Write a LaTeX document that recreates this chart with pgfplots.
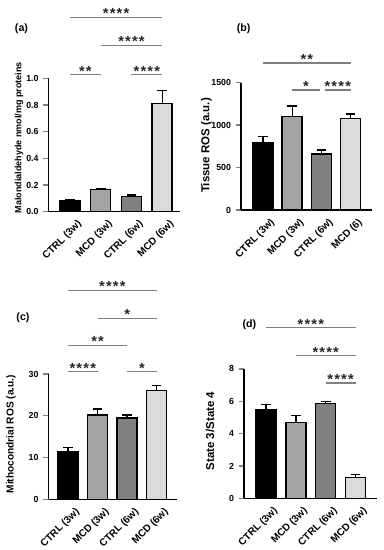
\documentclass[border=0pt]{standalone}
\usepackage{fontspec}
\setmainfont{Liberation Sans}
\usepackage{pgfplots}
\pgfplotsset{compat=1.18}
\definecolor{cA}{gray}{0.0}
\definecolor{cB}{gray}{0.64}
\definecolor{cC}{gray}{0.50}
\definecolor{cD}{gray}{0.86}
\definecolor{sig}{gray}{0.5}
\pgfplotsset{
  panel/.style={
    scale only axis, anchor=south west,
    axis x line*=bottom, axis y line*=left,
    axis line style={line width=1.1pt},
    ymin=0, clip=false,
    xtick={0,1,2,3},
    xtick style={draw=none},
    ytick style={line width=1pt},
    tick align=outside, major tick length=4pt,
    /pgf/number format/assume math mode=true,
    /pgf/number format/1000 sep={},
    tick label style={font=\bfseries\fontsize{6.6}{8}\selectfont},
    x tick label style={rotate=45, anchor=north east, inner sep=1pt, xshift=3.5pt, yshift=-3.5pt, font=\bfseries\fontsize{7.6}{9}\selectfont},
  },
  ylab/.style n args={3}{ylabel style={at={(axis description cs:#1,#2)}, anchor=center, rotate=0, font=\bfseries\fontsize{#3}{#3}\selectfont}},
  bb/.style={ybar, bar width=15pt, bar shift=0pt, draw=black, line width=1.1pt, fill=#1,
    error bars/y dir=plus, error bars/y explicit,
    error bars/error bar style={line width=1pt, black},
    error bars/error mark options={rotate=90, mark size=3.6pt, line width=1pt, black}},
}
\newcommand{\sigline}[4]{%
  \draw[sig, line width=0.8pt] (axis cs:#1,#3) -- (axis cs:#2,#3);
  \node[anchor=base, inner sep=0pt, yshift=-1.2pt, font=\bfseries\fontsize{11}{11}\selectfont\addfontfeatures{LetterSpace=8}, text=black!85] at (axis cs:{(#1+#2)/2},#3) {#4};}
\newcommand{\plab}[2]{\node[font=\bfseries\fontsize{8}{9}\selectfont] at #1 {#2};}
\begin{document}
\begin{tikzpicture}
\useasboundingbox (0,0) rectangle (287.25pt,-412.5pt);
% (a)
\plab{(16.1pt,-21.75pt)}{(a)}
\begin{axis}[panel, at={(36.4pt,-158.8pt)}, width=98.6pt, height=100pt,
  xmin=-0.70, xmax=3.58, ymax=1.0, ytick={0,0.2,...,1.0},
  yticklabel style={/pgf/number format/.cd, fixed, fixed zerofill, precision=1},
  xticklabels={CTRL (3w), MCD (3w), CTRL (6w), MCD (6w)},
  ylab={-0.224}{0.556}{6.75},
  ylabel={Malondialdehyde nmol/mg proteins}]
\addplot[bb=cA] coordinates {(0,0.08) +- (0,0.01)};
\addplot[bb=cB] coordinates {(1,0.165) +- (0,0.01)};
\addplot[bb=cC] coordinates {(2,0.115) +- (0,0.01)};
\addplot[bb=cD] coordinates {(3,0.81) +- (0,0.10)};
\sigline{0}{1}{1.03}{**}
\sigline{2}{3}{1.03}{****}
\sigline{1}{3}{1.25}{****}
\sigline{0}{3}{1.46}{****}
\end{axis}
% (b)
\plab{(182.8pt,-21.75pt)}{(b)}
\begin{axis}[panel, at={(180.75pt,-157.5pt)}, width=98.25pt, height=95.5pt,
  xmin=-0.75, xmax=3.73, ymax=1500, ytick={0,500,1000,1500},
  xticklabels={CTRL (3w), MCD (3w), CTRL (6w), MCD (6)},
  ylab={-0.265}{0.507}{8.6},
  ylabel={Tissue ROS (a.u.)}]
\addplot[bb=cA] coordinates {(0,790) +- (0,75)};
\addplot[bb=cB] coordinates {(1,1100) +- (0,125)};
\addplot[bb=cC] coordinates {(2,660) +- (0,45)};
\addplot[bb=cD] coordinates {(3,1080) +- (0,50)};
\sigline{0}{3}{1732}{**}
\sigline{1}{1.95}{1414}{*}
\sigline{2.12}{3}{1414}{****}
\end{axis}
% (c)
\plab{(17.25pt,-238.5pt)}{(c)}
\begin{axis}[panel, at={(36.4pt,-374.6pt)}, width=96.4pt, height=94.1pt,
  xmin=-0.66, xmax=3.69, ymax=30, ytick={0,10,20,30},
  xticklabels={CTRL (3w), MCD (3w), CTRL (6w), MCD (6w)},
  ylab={-0.292}{0.52}{7.6},
  ylabel={Mithocondrial ROS (a.u.)}]
\addplot[bb=cA] coordinates {(0,11.4) +- (0,1.0)};
\addplot[bb=cB] coordinates {(1,20.2) +- (0,1.4)};
\addplot[bb=cC] coordinates {(2,19.5) +- (0,0.7)};
\addplot[bb=cD] coordinates {(3,26.0) +- (0,1.2)};
\sigline{0}{1}{30.5}{****}
\sigline{2}{3}{30.5}{*}
\sigline{0}{2}{36.9}{**}
\sigline{1}{3}{43.3}{*}
\sigline{0}{3}{50}{****}
\end{axis}
% (d)
\plab{(187.1pt,-243.75pt)}{(d)}
\begin{axis}[panel, at={(183pt,-373.7pt)}, width=99.75pt, height=97pt,
  xmin=-0.74, xmax=3.72, ymax=8, ytick={0,2,4,6,8},
  xticklabels={CTRL (3w), MCD (3w), CTRL (6w), MCD (6w)},
  ylab={-0.255}{0.52}{8.6},
  ylabel={State 3/State 4}]
\addplot[bb=cA] coordinates {(0,5.5) +- (0,0.3)};
\addplot[bb=cB] coordinates {(1,4.7) +- (0,0.4)};
\addplot[bb=cC] coordinates {(2,5.85) +- (0,0.15)};
\addplot[bb=cD] coordinates {(3,1.3) +- (0,0.15)};
\sigline{2}{3}{7.13}{****}
\sigline{1}{3}{8.82}{****}
\sigline{0}{3}{10.54}{****}
\end{axis}
\end{tikzpicture}
\end{document}
